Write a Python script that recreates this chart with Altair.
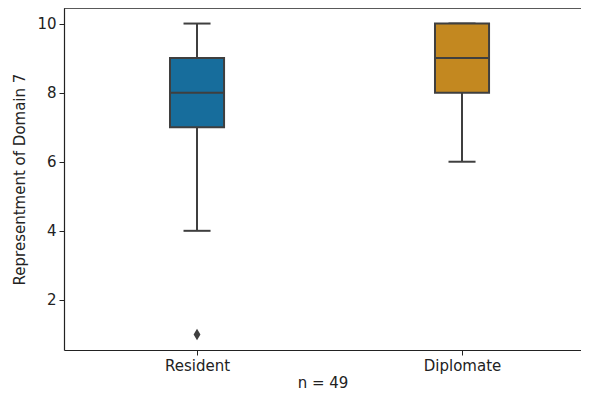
import altair as alt
import pandas as pd

groups = ["Resident", "Diplomate"]
whisker_low = [4, 6]
q1 = [7, 8]
median = [8, 9]
q3 = [9, 10]
whisker_high = [10, 10]
box_colors = ["#176d9c", "#c38820"]

outlier_group = ["Resident"]
outlier_value = [1]

y_ticks = [2, 4, 6, 8, 10]
n_label = "n = 49"
y_title = "Representment of Domain 7"

df = pd.DataFrame({
    "group": groups,
    "idx": list(range(len(groups))),
    "lo": whisker_low,
    "q1": q1,
    "med": median,
    "q3": q3,
    "hi": whisker_high,
})
out_df = pd.DataFrame({
    "group": outlier_group,
    "idx": [groups.index(g) for g in outlier_group],
    "val": outlier_value,
})

W, H = 517, 342
BOX_HALF = 0.102
CAP_HALF = 0.051
EDGE = "#3f3f3f"
FONT = "DejaVu Sans"

xscale = alt.Scale(domain=[-0.502, 1.449], nice=False, zero=False)
yscale = alt.Scale(domain=[0.55, 10.45], nice=False, zero=False)

label_expr = "datum.value == 0 ? '%s' : '%s'" % (groups[0], groups[1])
xaxis = alt.Axis(values=[0, 1], labelExpr=label_expr,
                 title=n_label, grid=False, domain=True, domainColor="#222", domainWidth=1.2,
                 tickSize=5, tickColor="#222", tickWidth=1,
                 labelFontSize=15, titleFontSize=15, labelPadding=3, titlePadding=2,
                 titleFontWeight="normal", labelColor="#222", titleColor="#222", labelFont=FONT,
                 titleFont=FONT)
yaxis = alt.Axis(values=y_ticks, title=y_title, grid=False, domain=True, domainColor="#222",
                 domainWidth=1.2, tickSize=5, tickColor="#222", tickWidth=1,
                 labelFontSize=15, titleFontSize=15, labelPadding=3,
                 titlePadding=9, titleFontWeight="normal", labelColor="#222", titleColor="#222",
                 labelFont=FONT, titleFont=FONT)

base = alt.Chart(df).transform_calculate(
    xl=f"datum.idx - {BOX_HALF}", xr=f"datum.idx + {BOX_HALF}",
    cl=f"datum.idx - {CAP_HALF}", cr=f"datum.idx + {CAP_HALF}",
)

whisker = base.mark_rule(color=EDGE, strokeWidth=2).encode(
    x=alt.X("idx:Q", scale=xscale, axis=xaxis),
    y=alt.Y("lo:Q", scale=yscale, axis=yaxis),
    y2="hi:Q",
)
cap_lo = base.mark_rule(color=EDGE, strokeWidth=2).encode(
    x=alt.X("cl:Q", scale=xscale), x2="cr:Q", y=alt.Y("lo:Q", scale=yscale))
cap_hi = base.mark_rule(color=EDGE, strokeWidth=2).encode(
    x=alt.X("cl:Q", scale=xscale), x2="cr:Q", y=alt.Y("hi:Q", scale=yscale))
box = base.mark_rect(stroke=EDGE, strokeWidth=2).encode(
    x=alt.X("xl:Q", scale=xscale), x2="xr:Q",
    y=alt.Y("q1:Q", scale=yscale), y2="q3:Q",
    color=alt.Color("group:N", scale=alt.Scale(domain=groups, range=box_colors), legend=None),
)
med = base.mark_rule(color=EDGE, strokeWidth=2).encode(
    x=alt.X("xl:Q", scale=xscale), x2="xr:Q", y=alt.Y("med:Q", scale=yscale))

outliers = alt.Chart(out_df).mark_point(
    shape="M0,-1L0.6,0L0,1L-0.6,0Z", filled=True, color=EDGE, size=130, opacity=1
).encode(x=alt.X("idx:Q", scale=xscale), y=alt.Y("val:Q", scale=yscale))

top_spine = alt.Chart(df).mark_rule(color="#222", strokeWidth=1.2).encode(
    x=alt.value(0), x2=alt.value("width"), y=alt.value(0))

chart = alt.layer(whisker, cap_lo, cap_hi, box, med, outliers, top_spine).properties(
    width=W, height=H,
    background="white",
    autosize=alt.AutoSizeParams(type="none"),
    padding={"left": 56, "top": 0, "right": 0, "bottom": 42},
).configure_view(stroke=None)

chart.save("out.html", embed_options={"renderer": "svg", "actions": False})
